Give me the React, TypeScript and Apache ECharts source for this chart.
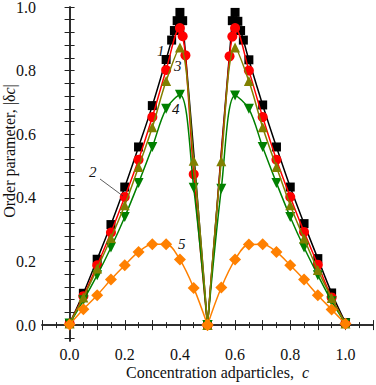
import React, { useEffect, useRef } from 'react';
import * as echarts from 'echarts';

// ---- data ----
const xLabelValues = [0, 0.2, 0.4, 0.6, 0.8, 1.0];
const yLabelValues = [0, 0.2, 0.4, 0.6, 0.8, 1.0];
const yTickValues = [-0.04, 0, 0.04, 0.08, 0.12, 0.16, 0.2, 0.24, 0.28, 0.32, 0.36, 0.4, 0.44, 0.48, 0.52, 0.56, 0.6, 0.64, 0.68, 0.72, 0.76, 0.8, 0.84, 0.88, 0.92, 0.96, 1.0];

const curve1Black: [number, number][] = [
  [0, 0.005], [0.05, 0.1], [0.1, 0.207], [0.15, 0.316], [0.2, 0.434], [0.25, 0.56], [0.3, 0.69], [0.35, 0.835],
  [0.37, 0.896], [0.38, 0.926], [0.39, 0.957], [0.4, 0.983], [0.41, 0.957], [0.5, 0.0],
  [0.59, 0.957], [0.6, 0.983], [0.61, 0.955], [0.62, 0.926], [0.63, 0.896], [0.65, 0.834], [0.7, 0.692],
  [0.75, 0.56], [0.8, 0.434], [0.85, 0.319], [0.9, 0.209], [0.95, 0.101], [1.0, 0.008],
];
const curve2Red: [number, number][] = [
  [0, 0.005], [0.05, 0.091], [0.1, 0.188], [0.15, 0.291], [0.2, 0.403], [0.25, 0.52], [0.3, 0.654], [0.35, 0.802],
  [0.4, 0.934], [0.41, 0.908], [0.42, 0.848], [0.45, 0.474], [0.5, 0.0],
  [0.58, 0.845], [0.59, 0.907], [0.6, 0.934], [0.65, 0.8], [0.7, 0.654], [0.75, 0.52], [0.8, 0.403],
  [0.85, 0.293], [0.9, 0.19], [0.95, 0.087], [1.0, 0.005],
];
const curve3Olive: [number, number][] = [
  [0, 0.005], [0.05, 0.087], [0.1, 0.178], [0.15, 0.274], [0.2, 0.377], [0.25, 0.497], [0.3, 0.622], [0.35, 0.767],
  [0.4, 0.873], [0.45, 0.517], [0.5, 0.0], [0.55, 0.515], [0.6, 0.873], [0.65, 0.767], [0.7, 0.622],
  [0.75, 0.497], [0.8, 0.377], [0.85, 0.272], [0.9, 0.173], [0.95, 0.085], [1.0, 0.005],
];
const curve4Green: [number, number][] = [
  [0, 0.005], [0.05, 0.078], [0.1, 0.157], [0.15, 0.244], [0.2, 0.34], [0.25, 0.447], [0.3, 0.56], [0.35, 0.68],
  [0.4, 0.724], [0.45, 0.432], [0.5, 0.0], [0.55, 0.429], [0.6, 0.722], [0.65, 0.68], [0.7, 0.56],
  [0.75, 0.447], [0.8, 0.34], [0.85, 0.244], [0.9, 0.157], [0.95, 0.075], [1.0, 0.005],
];
const curve5Orange: [number, number][] = [
  [0, 0.002], [0.05, 0.05], [0.1, 0.094], [0.15, 0.143], [0.2, 0.188], [0.25, 0.23], [0.3, 0.254], [0.35, 0.254],
  [0.4, 0.206], [0.45, 0.117], [0.5, 0.0], [0.55, 0.118], [0.6, 0.206], [0.65, 0.253], [0.7, 0.254],
  [0.75, 0.23], [0.8, 0.188], [0.85, 0.143], [0.9, 0.094], [0.95, 0.049], [1.0, 0.004],
];

const FONT = '"Liberation Serif", "Times New Roman", serif';

function buildCurve(data: [number, number][], color: string, symbol: string, size: number, rotate: number, z: number) {
  const left = data.filter((p) => p[0] <= 0.5);
  const right = data.filter((p) => p[0] >= 0.5);
  const base = {
    type: 'line',
    xAxisIndex: 0,
    yAxisIndex: 0,
    smooth: 0.35,
    symbol,
    symbolSize: size,
    symbolRotate: rotate,
    showAllSymbol: true,
    lineStyle: { color, width: 1.5 },
    itemStyle: { color, borderWidth: 0 },
    z,
  };
  return [
    { ...base, data: left },
    { ...base, data: right },
  ];
}

export default function App() {
  const ref = useRef<HTMLDivElement>(null);
  useEffect(() => {
    if (!ref.current) return;
    const chart = echarts.init(ref.current, undefined, { renderer: 'svg' });
    const axisLine = { show: true, lineStyle: { color: '#222', width: 1.5 } };
    const xCommon = {
      type: 'value',
      min: -0.1,
      max: 1.1,
      interval: 0.1,
      axisLine,
      splitLine: { show: false },
      axisTick: { show: true, inside: true, length: 5, lineStyle: { color: '#222', width: 1 } },
      minorTick: { show: true, splitNumber: 2, length: 3, lineStyle: { color: '#222', width: 1 } },
    };
    const yCommon = {
      type: 'value',
      min: -0.05,
      max: 1.0,
      axisLine,
      splitLine: { show: false },
      axisTick: { show: true, inside: true, length: 5, customValues: yTickValues, lineStyle: { color: '#222', width: 1 } },
    };
    const nameStyle = (pad: number[]) => ({
      fontFamily: FONT, fontSize: 16, color: '#111', padding: pad,
      rich: { i: { fontFamily: FONT, fontSize: 16, fontStyle: 'italic', color: '#111' } },
    });
    const labelStyle = {
      show: true,
      fontFamily: FONT,
      fontSize: 16,
      lineHeight: 14,
      color: '#111',
      formatter: (v: number) => v.toFixed(1),
    };
    const option = {
      animation: false,
      grid: { left: 42, right: 3, top: 7, bottom: 44, containLabel: false, outerBoundsMode: 'none' },
      xAxis: [
        {
          ...xCommon,
          position: 'bottom',
          name: 'Concentration adparticles,  {i|c}',
          nameLocation: 'middle',
          nameGap: 23,
          nameMoveOverlap: false,
          nameTextStyle: nameStyle([0, 0, 0, 20]),
          axisLabel: { ...labelStyle, margin: 6, customValues: xLabelValues },
        },
        {
          ...xCommon,
          position: 'top',
          axisLabel: { show: false },
        },
      ],
      yAxis: [
        {
          ...yCommon,
          position: 'left',
          name: 'Order parameter, |δ{i|c}|',
          nameLocation: 'middle',
          nameGap: 25,
          nameMoveOverlap: false,
          nameTextStyle: nameStyle([0, 0, 0, 46]),
          axisLabel: { ...labelStyle, margin: 6, customValues: yLabelValues },
        },
        {
          ...yCommon,
          position: 'right',
          axisLabel: { show: false },
        },
      ],
      series: [
        ...buildCurve(curve1Black, '#000000', 'rect', 9, 0, 2),
        ...buildCurve(curve2Red, '#ff0000', 'circle', 10, 0, 3),
        ...buildCurve(curve4Green, '#008000', 'triangle', 10, 180, 4),
        ...buildCurve(curve3Olive, '#808000', 'triangle', 10, 0, 5),
        ...buildCurve(curve5Orange, '#ff8000', 'diamond', 12, 0, 6),
      ],
      graphic: [
        { type: 'text', z: 100, x: 157, y: 43, style: { text: '1', font: `italic 15px ${FONT}`, fill: '#111' } },
        { type: 'text', z: 100, x: 89, y: 164, style: { text: '2', font: `italic 15px ${FONT}`, fill: '#111' } },
        { type: 'text', z: 100, x: 174, y: 58, style: { text: '3', font: `italic 15px ${FONT}`, fill: '#111' } },
        { type: 'text', z: 100, x: 172, y: 101, style: { text: '4', font: `italic 15px ${FONT}`, fill: '#111' } },
        { type: 'text', z: 100, x: 178, y: 236, style: { text: '5', font: `italic 15px ${FONT}`, fill: '#111' } },
        { type: 'line', z: 100, shape: { x1: 100, y1: 179, x2: 123, y2: 196 }, style: { stroke: '#333', lineWidth: 0.8 } },
      ],
    };
    chart.setOption(option as any);
    return () => chart.dispose();
  }, []);
  return (
    <div
      ref={ref}
      style={{ position: 'fixed', left: 0, top: 0, width: 376, height: 385, background: '#fff' }}
    />
  );
}
